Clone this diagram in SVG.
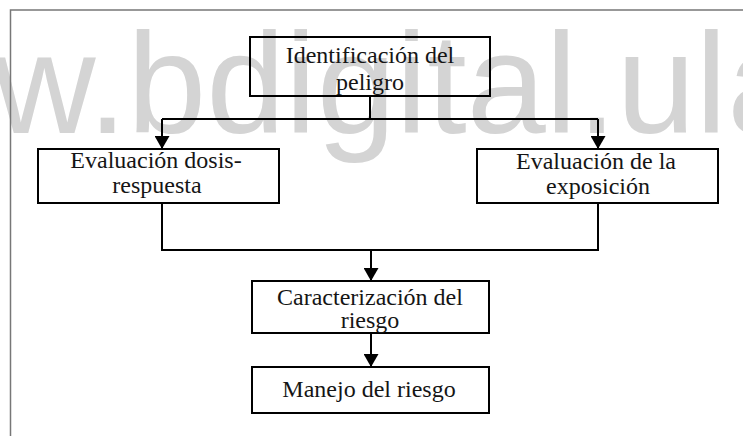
<svg xmlns="http://www.w3.org/2000/svg" width="743" height="436" viewBox="0 0 743 436">
<style>
.box{fill:none;stroke:#000;stroke-width:2}
.lbl{font-family:"Liberation Serif","DejaVu Serif",serif;font-size:24px;fill:#151515;text-anchor:middle}
.con{fill:none;stroke:#000;stroke-width:2}
.wm{font-family:"Liberation Sans",Arial,sans-serif;font-size:142px;fill:#d4d4d4}
</style>
<defs>
<marker id="ah" viewBox="0 0 13 15" refX="13" refY="7.5" markerWidth="13" markerHeight="15" markerUnits="userSpaceOnUse" orient="auto">
<path d="M0,0 L13,7.5 L0,15 Z" fill="#000"/>
</marker>
</defs>
<rect width="743" height="436" fill="#fff"/>
<text class="wm" x="-7" y="133">w.bdigital.ula</text>
<g id="frame" fill="none" stroke="#777" stroke-width="1.5">
<path d="M10.5,436 V10 H743"/>
</g>
<g id="connectors">
<path class="con" d="M370,96 V119"/>
<path class="con" d="M162,119 H598"/>
<path class="con" d="M162,119 V149" marker-end="url(#ah)"/>
<path class="con" d="M598,119 V149" marker-end="url(#ah)"/>
<path class="con" d="M162,203 V250 H598 V203"/>
<path class="con" d="M371,250 V281" marker-end="url(#ah)"/>
<path class="con" d="M371,333 V367" marker-end="url(#ah)"/>
</g>
<g id="n1"><rect class="box" x="250" y="37" width="240" height="59"/>
<text class="lbl" x="370" y="63">Identificación del</text>
<text class="lbl" x="370" y="90">peligro</text></g>
<g id="n2"><rect class="box" x="38" y="149" width="241" height="54"/>
<text class="lbl" x="156" y="168">Evaluación dosis-</text>
<text class="lbl" x="157" y="193">respuesta</text></g>
<g id="n3"><rect class="box" x="477" y="149" width="241" height="54"/>
<text class="lbl" x="596" y="169">Evaluación de la</text>
<text class="lbl" x="598" y="194">exposición</text></g>
<g id="n4"><rect class="box" x="252" y="281" width="237" height="52"/>
<text class="lbl" x="370" y="305">Caracterización del</text>
<text class="lbl" x="370" y="328">riesgo</text></g>
<g id="n5"><rect class="box" x="252" y="367" width="237" height="46"/>
<text class="lbl" x="369" y="397">Manejo del riesgo</text></g>
</svg>
